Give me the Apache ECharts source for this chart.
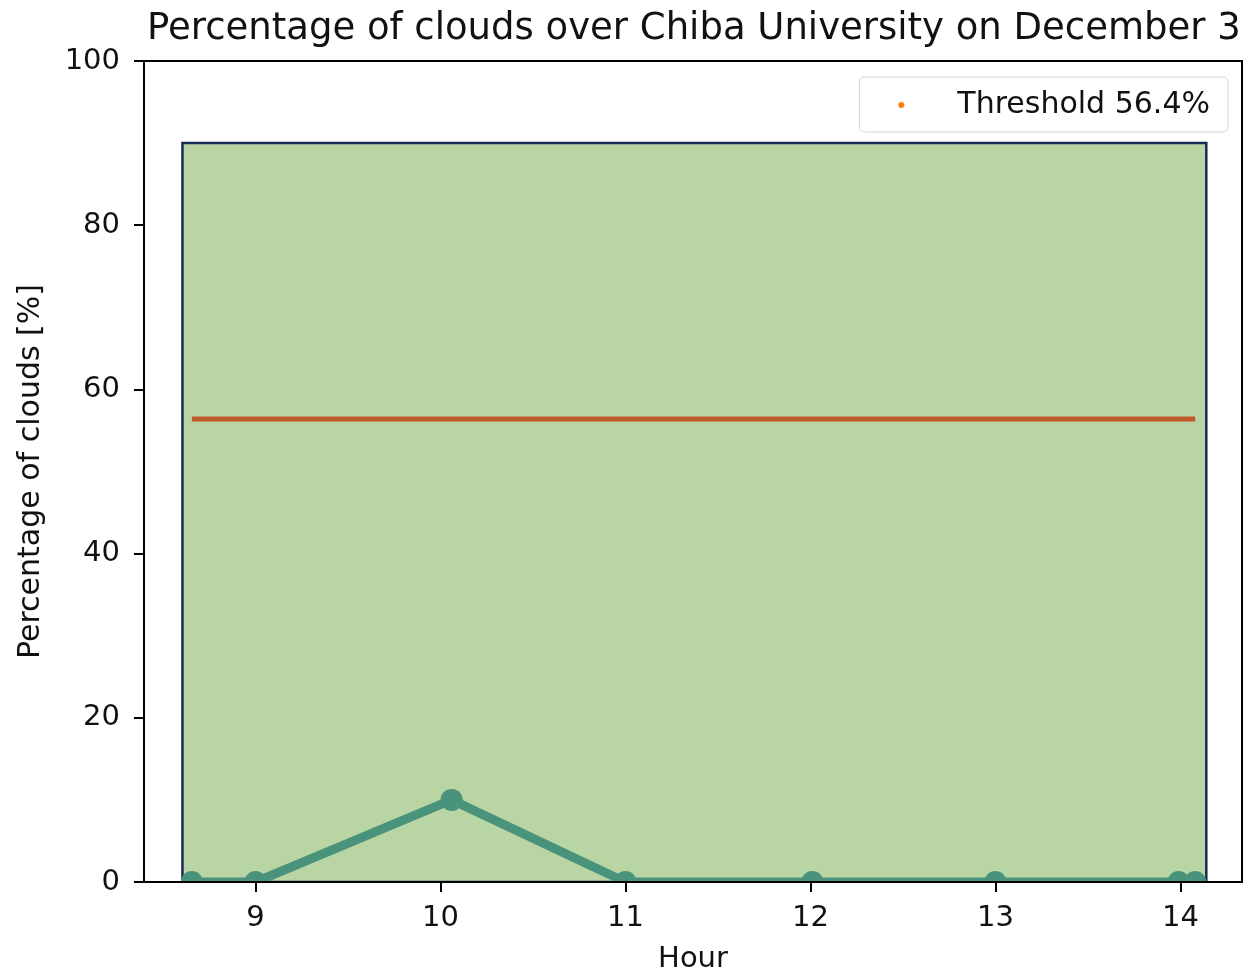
<!DOCTYPE html>
<html>
<head>
<meta charset="utf-8">
<script src="https://cdn.jsdelivr.net/npm/echarts@6/dist/echarts.min.js"></script>
<style>
  html, body { margin: 0; padding: 0; background: #fff; }
  #chart { width: 1246px; height: 973px; }
</style>
</head>
<body>
<div id="chart"></div>
<script>
const hours = [8.656, 9.0, 10.06, 11.0, 12.01, 13.0, 13.99, 14.08];
const clouds = [0, 0, 10, 0, 0, 0, 0, 0];
const threshold = 56.4;
const hourTicks = [9, 10, 11, 12, 13, 14];
// shaded observation window
const spanStart = 8.605;
const spanEnd = 14.14;
const spanTop = 90;

const font = 'DejaVu Sans';

let chart = echarts.init(document.getElementById('chart'));

let cloudData = hours.map((h, i) => [h, clouds[i]]);
let thrData = hours.map(h => [h, threshold]);

chart.setOption({
    animation: false,
    title: {
        text: 'Percentage of clouds over Chiba University on December 3',
        left: 147,
        top: 11,
        padding: 0,
        textStyle: { fontFamily: font, fontSize: 37, fontWeight: 'normal', color: '#111' }
    },
    legend: {
        data: [{ name: 'Threshold 56.4%', icon: 'circle', itemStyle: { color: '#ff7f0e' } }],
        right: 18,
        top: 77,
        itemWidth: 56,
        itemHeight: 6,
        padding: [13, 18, 12, 39],
        backgroundColor: '#fff',
        borderColor: '#d4d4d4',
        borderWidth: 1,
        borderRadius: 5,
        textStyle: { fontFamily: font, fontSize: 30, color: '#111', padding: [0, 0, 0, 23] }
    },
    // mask below the plot so markers at 0 look clipped by the axis
    graphic: [{
        type: 'rect', left: 0, top: 883, z: 6,
        shape: { width: 1246, height: 90 },
        style: { fill: '#fff' }, silent: true
    }],
    grid: {
        left: 144, right: 4, top: 61, bottom: 91,
        outerBoundsMode: 'none',
        show: true, borderColor: '#000', borderWidth: 2, backgroundColor: 'transparent'
    },
    xAxis: {
        type: 'value',
        z: 10,
        min: 8.397,
        max: 14.333,
        name: 'Hour',
        nameLocation: 'middle',
        nameGap: 63,
        nameTextStyle: { fontFamily: font, fontSize: 29, color: '#111' },
        splitLine: { show: false },
        axisLine: { show: true, lineStyle: { color: '#000', width: 2 } },
        axisTick: { show: true, length: 10, lineStyle: { color: '#000', width: 2 }, customValues: hourTicks },
        axisLabel: { fontFamily: font, fontSize: 29, color: '#111', margin: 22, customValues: hourTicks }
    },
    yAxis: {
        type: 'value',
        z: 10,
        min: 0,
        max: 100,
        interval: 20,
        name: 'Percentage of clouds [%]',
        nameLocation: 'middle',
        nameGap: 98,
        nameTextStyle: { fontFamily: font, fontSize: 30, color: '#111' },
        splitLine: { show: false },
        axisLine: { show: true, lineStyle: { color: '#000', width: 2 } },
        axisTick: { show: true, length: 10, lineStyle: { color: '#000', width: 2 } },
        axisLabel: { fontFamily: font, fontSize: 29, color: '#111', margin: 24 }
    },
    series: [
        {
            name: 'span',
            type: 'line',
            data: [],
            z: 1,
            silent: true,
            markArea: {
                silent: true,
                itemStyle: { color: '#b8d5a3', borderColor: '#1b2b58', borderWidth: 2.5, opacity: 1 },
                data: [[{ coord: [spanStart, 0] }, { coord: [spanEnd, spanTop] }]]
            }
        },
        {
            name: 'Threshold 56.4%',
            type: 'line',
            data: thrData,
            z: 3,
            showSymbol: false,
            symbol: 'none',
            lineStyle: { color: '#c25b29', width: 5 },
            itemStyle: { color: '#ff7f0e' }
        },
        {
            name: 'clouds',
            type: 'line',
            data: cloudData,
            z: 4,
            symbol: 'circle',
            symbolSize: 22,
            lineStyle: { color: '#49927b', width: 9 },
            itemStyle: { color: '#49927b' }
        }
    ]
});
</script>
</body>
</html>
